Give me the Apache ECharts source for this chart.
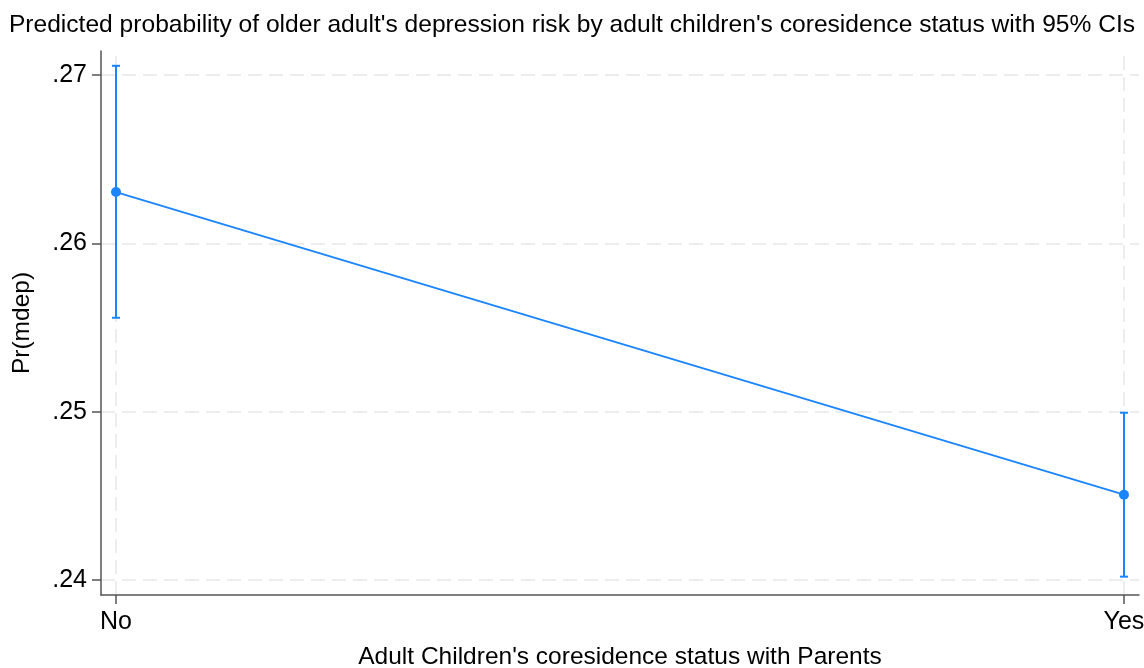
<!DOCTYPE html>
<html>
<head>
<meta charset="utf-8">
<script src="https://cdn.jsdelivr.net/npm/echarts@6/dist/echarts.min.js"></script>
<style>
  html, body { margin: 0; padding: 0; background: #fff; }
  #chart { width: 1144px; height: 668px; }
</style>
</head>
<body>
<div id="chart"></div>
<script>
// Coresidence status categories (x positions 0 and 1)
const categories = ['No', 'Yes'];
// Predicted probability of depression and 95% confidence bounds
const predicted = [0.26305, 0.24507];
const ciLower = [0.25558, 0.24020];
const ciUpper = [0.27055, 0.24994];
// Y-axis tick values
const yTicks = [0.24, 0.25, 0.26, 0.27];

const FONT = '"Liberation Sans", Arial, sans-serif';
const BLUE = '#1a85ff';
const AXIS = '#555555';
const GRIDC = '#ededed';

const xTicks = categories.map((_, i) => i);
const points = categories.map((_, i) => [i, predicted[i]]);
const ciData = categories.map((_, i) => [i, ciLower[i], ciUpper[i]]);

const chart = echarts.init(document.getElementById('chart'), null, { renderer: 'canvas' });

chart.setOption({
  animation: false,
  backgroundColor: '#ffffff',
  title: {
    text: "Predicted probability of older adult's depression risk by adult children's coresidence status with 95% CIs",
    left: 'center',
    top: 8,
    textStyle: { fontFamily: FONT, fontSize: 24.6, fontWeight: 'normal', color: '#000' }
  },
  grid: { left: 101, right: 5, top: 51, bottom: 73, containLabel: false, outerBoundsMode: 'none' },
  xAxis: {
    type: 'value',
    min: -0.0149,
    max: 1.0149,
    name: "Adult Children's coresidence status with Parents",
    nameLocation: 'middle',
    nameGap: 50,
    nameTextStyle: { fontFamily: FONT, fontSize: 24.5, color: '#000' },
    axisLine: { show: true, onZero: false, lineStyle: { color: AXIS, width: 1.5 } },
    axisTick: { show: true, customValues: xTicks, length: 9, lineStyle: { color: AXIS, width: 1.5 } },
    axisLabel: {
      customValues: xTicks,
      formatter: v => categories[Math.round(v)],
      fontFamily: FONT, fontSize: 25, color: '#000', margin: 15
    },
    splitLine: { show: false }
  },
  yAxis: {
    type: 'value',
    min: 0.23911,
    max: 0.27143,
    name: 'Pr(mdep)',
    nameLocation: 'middle',
    nameGap: 66,
    nameTextStyle: { fontFamily: FONT, fontSize: 24.5, color: '#000' },
    axisLine: { show: true, onZero: false, lineStyle: { color: AXIS, width: 1.5 } },
    axisTick: { show: true, customValues: yTicks, length: 9, lineStyle: { color: AXIS, width: 1.5 } },
    axisLabel: {
      customValues: yTicks,
      formatter: v => v.toFixed(2).replace(/^0/, ''),
      fontFamily: FONT, fontSize: 25, color: '#000', margin: 14
    },
    splitLine: { show: false }
  },
  series: [
    {
      // dashed reference grid at each tick
      type: 'line',
      data: [],
      silent: true,
      z: 0,
      markLine: {
        symbol: 'none',
        silent: true,
        z: 0,
        label: { show: false },
        lineStyle: { color: GRIDC, type: [14, 7], width: 2 },
        data: yTicks.map(v => ({ yAxis: v })).concat(xTicks.map(v => ({ xAxis: v })))
      }
    },
    {
      // 95% CI whiskers with caps
      type: 'custom',
      silent: true,
      data: ciData,
      z: 5,
      clip: false,
      renderItem: (params, api) => {
        const x = api.value(0);
        const lo = api.coord([x, api.value(1)]);
        const hi = api.coord([x, api.value(2)]);
        const cap = 4;
        const style = { stroke: BLUE, lineWidth: 2 };
        return {
          type: 'group',
          children: [
            { type: 'line', shape: { x1: lo[0], y1: lo[1], x2: hi[0], y2: hi[1] }, style },
            { type: 'line', shape: { x1: lo[0] - cap, y1: lo[1], x2: lo[0] + cap, y2: lo[1] }, style },
            { type: 'line', shape: { x1: hi[0] - cap, y1: hi[1], x2: hi[0] + cap, y2: hi[1] }, style }
          ]
        };
      },
      encode: { x: 0, y: [1, 2] }
    },
    {
      type: 'line',
      data: points,
      symbol: 'circle',
      symbolSize: 10,
      clip: false,
      lineStyle: { color: BLUE, width: 1.8 },
      itemStyle: { color: BLUE },
      z: 6
    }
  ]
});
</script>
</body>
</html>
